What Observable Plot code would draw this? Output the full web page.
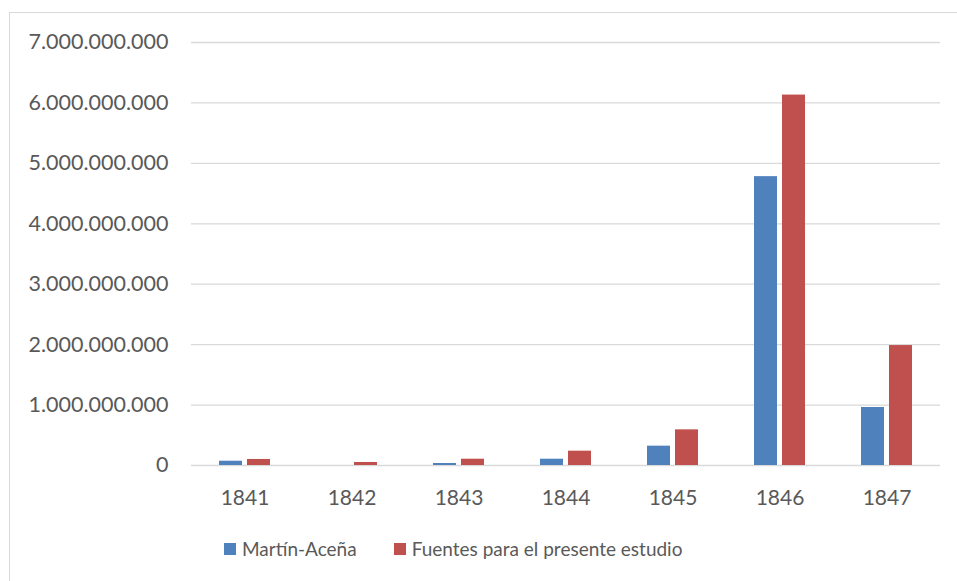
<!DOCTYPE html>
<html>
<head>
<meta charset="utf-8">
<script src="https://cdn.jsdelivr.net/npm/d3@7"></script>
<script src="https://cdn.jsdelivr.net/npm/@observablehq/plot@0.6"></script>
<style>
  html, body { margin: 0; padding: 0; background: #fff; }
  #wrap { position: relative; width: 957px; height: 581px; overflow: hidden; font-family: Lato, "Open Sans", sans-serif; color: #595959; }
  #frame { position: absolute; left: 9px; top: 12px; width: 980px; height: 600px; border: 1px solid #d9d9d9; box-sizing: border-box; }
  #chart { position: absolute; left: 0; top: 0; }
  #legend { position: absolute; left: 224px; top: 537px; display: flex; align-items: center; font-size: 19px; }
  #legend .item { display: flex; align-items: center; margin-right: 37px; }
  #legend .sw { width: 12px; height: 12px; margin-right: 6px; }
</style>
</head>
<body>
<div id="wrap">
  <div id="frame"></div>
  <div id="chart"></div>
  <div id="legend"></div>
</div>
<script>
// Annual amounts by source, 1841–1847
const years = [1841, 1842, 1843, 1844, 1845, 1846, 1847];
const seriesNames = ["Martín-Aceña", "Fuentes para el presente estudio"];
const martinAcena = [71e6, null, 33e6, 104e6, 320e6, 4780e6, 960e6];
const fuentesEstudio = [100e6, 50e6, 104e6, 237e6, 590e6, 6130e6, 1985e6];
const seriesColors = ["#4f81bd", "#c0504d"];
const yTicks = [0, 1e9, 2e9, 3e9, 4e9, 5e9, 6e9, 7e9];

const rows = years.flatMap((year, i) => [
  {year, series: seriesNames[0], value: martinAcena[i]},
  {year, series: seriesNames[1], value: fuentesEstudio[i]}
]);

// Spanish number format: dot as thousands separator
const esFormat = d3.formatLocale({decimal: ",", thousands: ".", grouping: [3], currency: ["", " €"]}).format(",d");

// Year facets touch each other so the gridlines run continuously;
// the gap around each pair of bars comes from the inner band padding.
const chart = Plot.plot({
  width: 957,
  height: 520,
  marginLeft: 189,
  marginRight: 16,
  marginTop: 42,
  marginBottom: 55,
  style: {fontFamily: "Lato, 'Open Sans', sans-serif", fontSize: "20px", color: "#595959", background: "transparent", overflow: "visible"},
  fx: {domain: years, padding: 0},
  x: {domain: seriesNames, paddingInner: 0.18, paddingOuter: 1.0, axis: null},
  y: {domain: [0, 7e9]},
  color: {domain: seriesNames, range: seriesColors},
  marks: [
    Plot.gridY(yTicks, {stroke: "#d9d9d9", strokeOpacity: 1, strokeWidth: 1.3}),
    Plot.axisY(yTicks, {tickFormat: esFormat, tickSize: 0, tickPadding: 23, fontSize: 21.5, label: null}),
    Plot.axisFx({anchor: "bottom", tickFormat: d => String(d), tickSize: 0, tickPadding: 25, fontSize: 21, label: null}),
    Plot.barY(rows.filter(d => d.value != null), {fx: "year", x: "series", y: "value", fill: "series"})
  ]
});
document.getElementById("chart").appendChild(chart);

// Legend built from the same series names and colours
const legend = d3.select("#legend");
seriesNames.forEach((name, i) => {
  const item = legend.append("div").attr("class", "item");
  item.append("div").attr("class", "sw").style("background", seriesColors[i]);
  item.append("span").text(name);
});
</script>
</body>
</html>
